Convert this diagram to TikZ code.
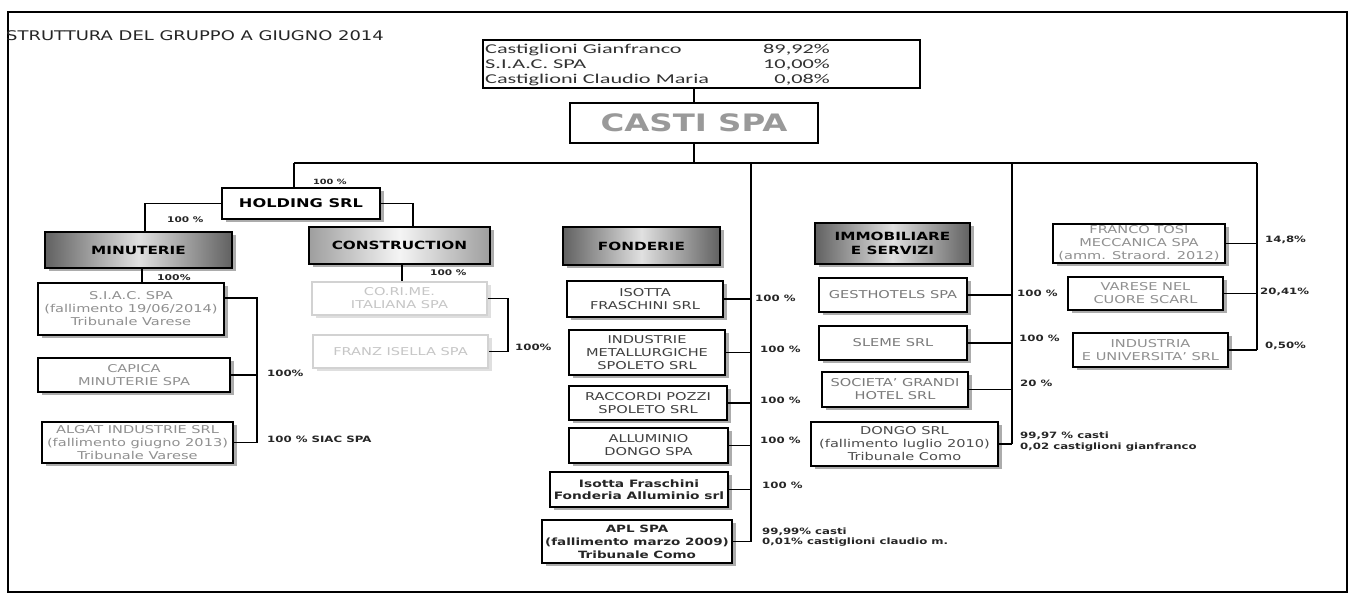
\documentclass[tikz,border=0pt]{standalone}
\usepackage{fontspec}
\setmainfont{DejaVu Sans}[FakeStretch=1.35]
\newfontfamily\topfont{Carlito}[FakeStretch=1.65]
\usetikzlibrary{shadows}
\newcommand{\fs}[2]{\fontsize{#1}{#2}\selectfont}
\definecolor{hd}{gray}{0.38}
\definecolor{hm}{gray}{0.88}
\definecolor{cd}{gray}{0.62}
\definecolor{cm}{gray}{0.96}
\tikzset{
  conn/.style={line width=1.6pt, draw=black},
  box/.style={draw=black, line width=1.5pt, fill=white, inner sep=0pt, align=center,
     font=\fs{10.8}{13}, drop shadow={shadow xshift=3.5pt, shadow yshift=-3pt, fill=gray!65, opacity=1}},
  heading/.style={box, line width=2.2pt, font=\bfseries\fs{11.3}{13.5}, text=black,
     left color=hd, right color=hd, middle color=hm},
  pale/.style={box, draw=gray!35, text=gray!45, drop shadow={shadow xshift=3.5pt, shadow yshift=-3pt, fill=gray!25, opacity=1}},
  lab/.style={font=\bfseries\fs{8.7}{10.5}, inner sep=0pt, anchor=west, align=left, text=black!85},
  toprow/.style={font=\topfont\fs{13.5}{15}, inner sep=0pt, text=black!80}
}
\begin{document}
\begin{tikzpicture}[x=1pt,y=-1pt]
\useasboundingbox (0,0) rectangle (1357,594);
\fill[white] (0,0) rectangle (1357,594);
\draw[line width=1.5pt] (8,12) rectangle (1347,592);

\node[anchor=base west, font=\fs{13.3}{15}, inner sep=0pt, text=black!85] (title) at (6,41) {STRUTTURA DEL GRUPPO A GIUGNO 2014};

% shareholders
\node[draw, line width=2pt, minimum width=437pt, minimum height=48pt, inner sep=0pt] (sh) at (701.5,64) {};
\node[toprow, anchor=base west] (s1) at (485,53) {Castiglioni Gianfranco};
\node[toprow, anchor=base west] (s2) at (485,68) {S.I.A.C. SPA};
\node[toprow, anchor=base west] (s3) at (485,84) {Castiglioni Claudio Maria};
\node[toprow, anchor=base east] (p1) at (830,53) {89,92\%};
\node[toprow, anchor=base east] (p2) at (830,68) {10,00\%};
\node[toprow, anchor=base east] (p3) at (830,84) {0,08\%};

\node[draw, line width=2.5pt, minimum width=248pt, minimum height=40pt, inner sep=0pt,
      font=\bfseries\fs{24}{26}, text=gray!70!black!75] (casti) at (694,123) {\textcolor{gray!80}{CASTI SPA}};

\coordinate (busL) at (294,163);
\coordinate (busR) at (1257,163);
\coordinate (vF) at (751,163);
\coordinate (vI) at (1012,163);
\coordinate (mk) at (145,0);
\coordinate (ck) at (413,0);
\coordinate (sk) at (142,0);
\coordinate (bk1) at (257,0);
\coordinate (cok) at (402,0);
\coordinate (bk2) at (508,0);

% holding branch
\node[box, line width=2pt, font=\bfseries\fs{12}{14}, minimum width=158pt, minimum height=31pt] (holding) at (301,203.5) {HOLDING SRL};
\node[heading, minimum width=187pt, minimum height=36pt] (minut) at (138.5,250) {MINUTERIE};
\node[heading, left color=cd, right color=cd, middle color=cm, minimum width=181pt, minimum height=37pt] (constr) at (399.5,245.5) {CONSTRUCTION};

\node[box, text=gray!75!black!70, minimum width=186pt, minimum height=52pt] (siac) at (131,309) {S.I.A.C. SPA\\(fallimento 19/06/2014)\\Tribunale Varese};
\node[box, text=gray!75!black!70, minimum width=192pt, minimum height=34pt] (capica) at (134,375) {CAPICA\\MINUTERIE SPA};
\node[box, text=gray!75!black!70, minimum width=191pt, minimum height=41pt] (algat) at (137.5,442.5) {ALGAT INDUSTRIE SRL\\(fallimento giugno 2013)\\Tribunale Varese};

\node[pale, minimum width=175pt, minimum height=33pt] (corime) at (399.5,298.5) {CO.RI.ME.\\ITALIANA SPA};
\node[pale, minimum width=175pt, minimum height=33pt] (franz) at (400.5,351.5) {FRANZ ISELLA SPA};

% fonderie
\node[heading, minimum width=157pt, minimum height=38pt] (fond) at (641.5,246) {FONDERIE};
\node[box, text=black!75, minimum width=156pt, minimum height=36pt] (isotta) at (645,299) {ISOTTA\\FRASCHINI SRL};
\node[box, text=black!75, minimum width=156pt, minimum height=45pt] (indus) at (647,352.5) {INDUSTRIE\\METALLURGICHE\\SPOLETO SRL};
\node[box, text=black!75, minimum width=158pt, minimum height=34pt] (racc) at (648,403) {RACCORDI POZZI\\SPOLETO SRL};
\node[box, text=black!75, minimum width=159pt, minimum height=35pt] (allum) at (648.5,445.5) {ALLUMINIO\\DONGO SPA};
\node[box, text=black!85, font=\bfseries\fs{10.2}{12}, minimum width=178pt, minimum height=35pt] (isofond) at (639,489.5) {Isotta Fraschini\\Fonderia Alluminio srl};
\node[box, text=black!85, font=\bfseries\fs{10}{13}, minimum width=190pt, minimum height=43pt] (apl) at (637,541.5) {APL SPA\\(fallimento marzo 2009)\\Tribunale Como};

% immobiliare
\node[heading, minimum width=155pt, minimum height=41pt] (immob) at (892.5,243.5) {IMMOBILIARE\\E SERVIZI};
\node[box, text=gray!70!black!80, minimum width=148pt, minimum height=34pt] (gest) at (893,295) {GESTHOTELS SPA};
\node[box, text=gray!70!black!80, minimum width=148pt, minimum height=34pt] (sleme) at (893,343) {SLEME SRL};
\node[box, text=gray!70!black!80, minimum width=146pt, minimum height=35pt] (sgh) at (895,389.5) {SOCIETA' GRANDI\\HOTEL SRL};
\node[box, text=black!70, minimum width=187pt, minimum height=44pt] (dongo) at (904.5,444) {DONGO SRL\\(fallimento luglio 2010)\\Tribunale Como};

% right group
\node[box, text=gray!75!black!70, minimum width=172pt, minimum height=39pt] (tosi) at (1139,243.5) {FRANCO TOSI\\MECCANICA SPA\\(amm. Straord. 2012)};
\node[box, text=gray!75!black!70, minimum width=155pt, minimum height=33pt] (varese) at (1145.5,293.5) {VARESE NEL\\CUORE SCARL};
\node[box, text=gray!75!black!70, minimum width=155pt, minimum height=34pt] (induni) at (1150.5,350) {INDUSTRIA\\E UNIVERSITA' SRL};

% connectors
\draw[conn] (casti.north) -- (casti.north |- sh.south);
\draw[conn] (casti.south) -- (casti.south |- busL);
\draw[conn] (busL) -- (busR);
\draw[conn] (busL) -- (busL |- holding.north);
\draw[conn] (holding.west) -| (mk |- minut.north);
\draw[conn] (holding.east) -| (ck |- constr.north);
\draw[conn] (sk |- minut.south) -- (sk |- siac.north);
\draw[conn] ([yshift=11pt]siac.east) -| (bk1 |- algat.east);
\draw[conn] (capica.east) -- (capica.east -| bk1);
\draw[conn] (algat.east) -- (algat.east -| bk1);
\draw[conn] (cok |- constr.south) -- (cok |- corime.north);
\draw[conn] (corime.east) -| (bk2 |- franz.east) -- (franz.east);

\draw[conn] (vF) -- (vF |- apl.east);
\foreach \n in {isotta,indus,racc,allum,isofond,apl}
  \draw[conn] (\n.east) -- (\n.east -| vF);
\draw[conn] (vI) -- (vI |- dongo.east);
\foreach \n in {gest,sleme,sgh,dongo}
  \draw[conn] (\n.east) -- (\n.east -| vI);
\draw[conn] (busR) -- (busR |- induni.east);
\foreach \n in {tosi,varese,induni}
  \draw[conn] (\n.east) -- (\n.east -| busR);

% labels
\node[lab, font=\bfseries\fs{7.2}{9}] (lh) at (313,182) {100 \%};
\node[lab, font=\bfseries\fs{7.8}{9}] (lm) at (167,220) {100 \%};
\node[lab, font=\bfseries\fs{8}{9}] (ls) at (157,278) {100\%};
\node[lab] (lcap) at (267,373) {100\%};
\node[lab] (lalg) at (267,439) {100 \% SIAC SPA};
\node[lab, font=\bfseries\fs{7.8}{9}] (lco) at (430,273) {100 \%};
\node[lab] (lfr) at (515,347) {100\%};
\node[lab] (lf1) at (755,298) {100 \%};
\node[lab] (lf2) at (760,349) {100 \%};
\node[lab] (lf3) at (760,400) {100 \%};
\node[lab] (lf4) at (760,440) {100 \%};
\node[lab] (lf5) at (762,485) {100 \%};
\node[lab, font=\bfseries\fs{8.7}{10.5}] (lf6) at (762,537) {99,99\% casti\\0,01\% castiglioni claudio m.};
\node[lab] (li1) at (1017,293) {100 \%};
\node[lab] (li2) at (1019,338) {100 \%};
\node[lab] (li3) at (1020,383) {20 \%};
\node[lab] (li4) at (1020,441.5) {99,97 \% casti\\0,02 castiglioni gianfranco};
\node[lab] (lr1) at (1265,240) {14,8\%};
\node[lab] (lr2) at (1260,292) {20,41\%};
\node[lab] (lr3) at (1265,346) {0,50\%};
\end{tikzpicture}
\end{document}
